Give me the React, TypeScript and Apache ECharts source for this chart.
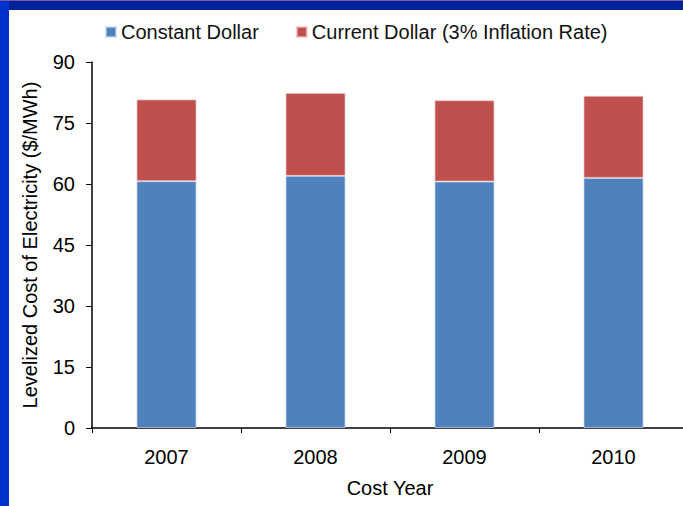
import React, { useEffect, useRef } from "react";
import * as echarts from "echarts";

const categories = ["2007", "2008", "2009", "2010"];
const constantDollar = [60.7, 62.0, 60.6, 61.5];
const inflationAdder = [20.1, 20.4, 20.0, 20.2];
const seriesNames = ["Constant Dollar", "Current Dollar (3% Inflation Rate)"];
const yMin = 0;
const yMax = 90;
const yStep = 15;

export default function App() {
  const ref = useRef<HTMLDivElement>(null);
  useEffect(() => {
    if (!ref.current) return;
    const chart = echarts.init(ref.current, undefined, { renderer: "svg" });
    const font = "'Liberation Sans', Arial, sans-serif";
    chart.setOption({
      animation: false,
      backgroundColor: "#ffffff",
      textStyle: { fontFamily: font, color: "#000" },
      graphic: [
        { type: "rect", shape: { x: 0, y: 0, width: 683, height: 10 }, style: { fill: "#00229a" }, z: 10 },
        { type: "rect", shape: { x: 0, y: 0, width: 683, height: 1 }, style: { fill: "#7a5aa8" }, z: 11 },
        { type: "rect", shape: { x: 0, y: 0, width: 9, height: 506 }, style: { fill: "#0033cc" }, z: 10 },
      ],
      legend: {
        top: 17,
        left: 100,
        itemWidth: 10,
        itemHeight: 10,
        itemGap: 37,
        icon: "rect",
        textStyle: { fontFamily: font, fontSize: 20, color: "#111" },
        data: seriesNames,
      },
      grid: { left: 92, top: 62, bottom: 78, right: -5, outerBoundsMode: "none", containLabel: false },
      xAxis: {
        type: "category",
        data: categories,
        boundaryGap: true,
        name: "Cost Year",
        nameLocation: "middle",
        nameGap: 50,
        nameTextStyle: { fontFamily: font, fontSize: 20, color: "#000", verticalAlign: "top" },
        axisLine: { lineStyle: { color: "#000", width: 1.5 } },
        axisTick: { show: true, length: 5, lineStyle: { color: "#000", width: 1 } },
        axisLabel: { fontFamily: font, fontSize: 20, color: "#000", margin: 19 },
        splitLine: { show: false },
      },
      yAxis: {
        type: "value",
        min: yMin,
        max: yMax,
        interval: yStep,
        name: "Levelized Cost of Electricity ($/MWh)",
        nameLocation: "middle",
        nameGap: 52,
        nameTextStyle: { fontFamily: font, fontSize: 20, color: "#000" },
        axisLine: { show: true, lineStyle: { color: "#000", width: 1.5 } },
        axisTick: { show: true, length: 6, lineStyle: { color: "#000", width: 1 } },
        axisLabel: { fontFamily: font, fontSize: 20, color: "#000", margin: 17 },
        splitLine: { show: false },
      },
      series: [
        {
          name: seriesNames[0],
          type: "bar",
          stack: "total",
          barWidth: 60,
          data: constantDollar,
          itemStyle: { color: "#4f81bd", borderColor: "rgba(200,215,235,0.7)", borderWidth: 1 },
        },
        {
          name: seriesNames[1],
          type: "bar",
          stack: "total",
          barWidth: 60,
          data: inflationAdder,
          itemStyle: { color: "#c0504d", borderColor: "rgba(235,195,195,0.7)", borderWidth: 1 },
        },
      ],
    });
    return () => chart.dispose();
  }, []);
  return (
    <div
      ref={ref}
      style={{ position: "absolute", left: 0, top: 0, width: 683, height: 506 }}
    />
  );
}
